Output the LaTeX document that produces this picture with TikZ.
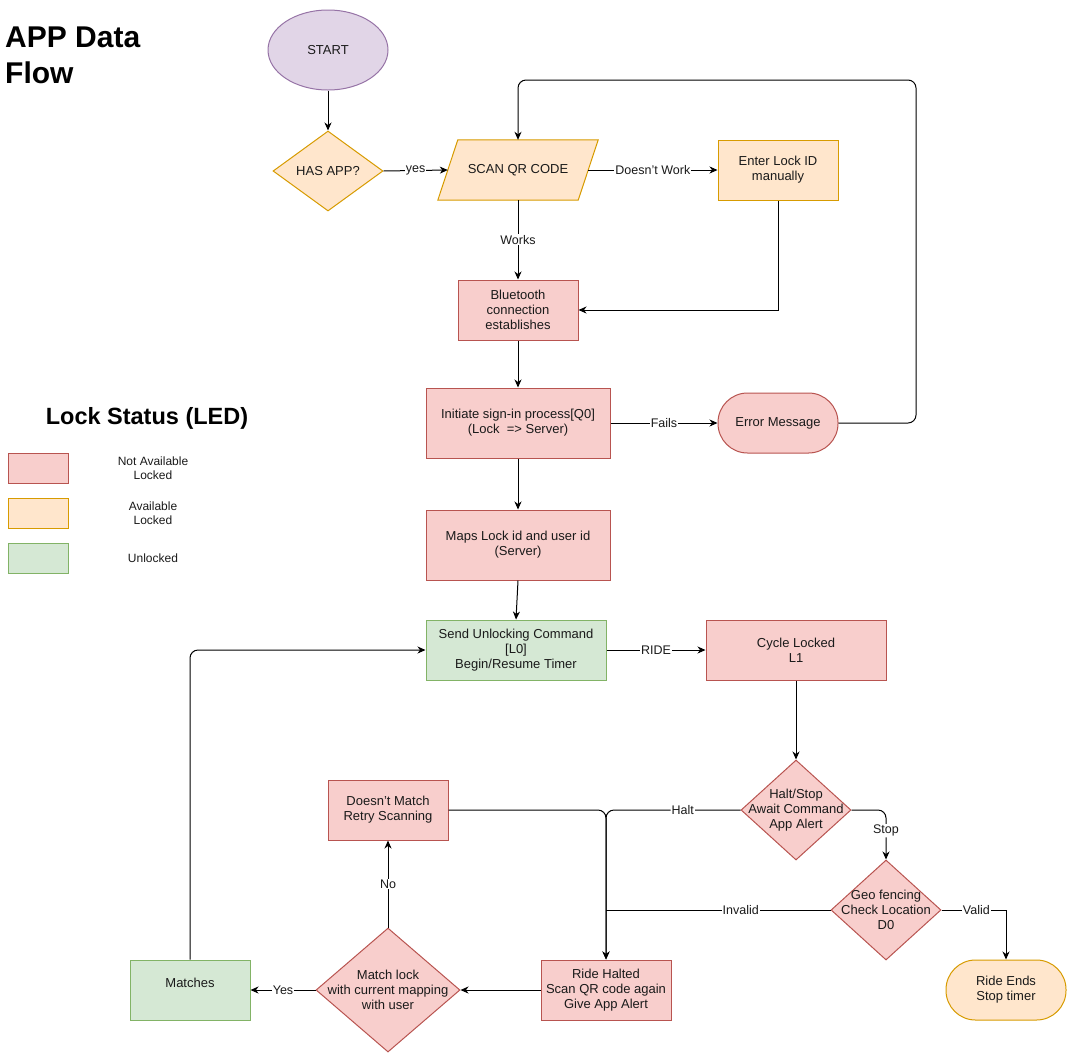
\documentclass[tikz,border=0pt]{standalone}
\usepackage{fontspec}
\setmainfont{Liberation Sans}
\usetikzlibrary{shapes.geometric,arrows.meta,calc}
\definecolor{pfill}{HTML}{E1D5E7}\definecolor{pline}{HTML}{9673A6}
\definecolor{ofill}{HTML}{FFE6CC}\definecolor{oline}{HTML}{D79B00}
\definecolor{rfill}{HTML}{F8CECC}\definecolor{rline}{HTML}{B85450}
\definecolor{gfill}{HTML}{D5E8D4}\definecolor{gline}{HTML}{82B366}
\definecolor{txtc}{HTML}{1A1A1A}
\begin{document}
\begin{tikzpicture}[x=1pt,y=-1pt,
  base/.style={line width=1pt, align=center, text=txtc, font=\fontsize{13}{15}\selectfont, inner sep=2pt},
  redbox/.style={base, draw=rline, fill=rfill, rectangle},
  orbox/.style={base, draw=oline, fill=ofill, rectangle},
  grbox/.style={base, draw=gline, fill=gfill, rectangle},
  reddia/.style={base, draw=rline, fill=rfill, diamond, inner sep=0pt},
  ordia/.style={base, draw=oline, fill=ofill, diamond, inner sep=0pt},
  txt/.style={align=center, text=txtc, font=\fontsize{13}{15}\selectfont, inner sep=0pt},
  arr/.style={line width=1pt, draw=black, -{Stealth[length=8pt,width=7pt,inset=2.5pt]}},
  ln/.style={line width=1pt, draw=black},
  lbl/.style={fill=white, text=txtc, font=\fontsize{12.5}{14}\selectfont, inner sep=1pt},
  legtxt/.style={align=center, text=txtc, font=\fontsize{12}{14}\selectfont, inner sep=0pt}
]
\useasboundingbox (0,0) rectangle (1067,1053);

% titles
\node[anchor=north west, align=left, inner sep=0pt, font=\bfseries\fontsize{30}{36}\selectfont] (title) at (5,27) {APP Data\\Flow};
\node[font=\bfseries\fontsize{23.5}{28}\selectfont, inner sep=0pt] (legtitle) at (147,418) {Lock Status (LED)};

% legend
\node[redbox, minimum width=60pt, minimum height=30pt] (leg1) at (38,468) {};
\node[orbox, minimum width=60pt, minimum height=30pt] (leg2) at (38,513) {};
\node[grbox, minimum width=60pt, minimum height=30pt] (leg3) at (38,558) {};
\node[legtxt] (leg1t) at (153,468) {Not Available\\Locked};
\node[legtxt] (leg2t) at (153,513) {Available\\Locked};
\node[legtxt] (leg3t) at (153,558) {Unlocked};

% nodes
\node[base, ellipse, draw=pline, fill=pfill, minimum width=120pt, minimum height=80pt] (start) at (328,50) {START};
\node[ordia, minimum width=110pt, minimum height=80pt, label={[txt]center:HAS APP?}] (hasapp) at (328,171) {};
\node[minimum width=160pt, minimum height=60pt, inner sep=0pt] (scan) at (518,170) {};
\fill[ofill] ($(scan.north west)+(20,0)$) -- (scan.north east) -- ($(scan.south east)+(-20,0)$) -- (scan.south west) -- cycle;
\draw[line width=1pt, draw=oline] ($(scan.north west)+(20,0)$) -- (scan.north east) -- ($(scan.south east)+(-20,0)$) -- (scan.south west) -- cycle;
\node[txt] (scantxt) at (scan.center) {SCAN QR CODE};
\coordinate (scanE) at ($(scan.east)+(-10,0)$);
\coordinate (scanW) at ($(scan.west)+(10,0)$);
\node[orbox, minimum width=120pt, minimum height=60pt] (enter) at (778,170) {Enter Lock ID\\manually};
\node[redbox, minimum width=120pt, minimum height=60pt] (bt) at (518,310) {Bluetooth\\connection\\establishes};
\node[redbox, minimum width=184pt, minimum height=70pt] (init) at (518,423) {Initiate sign-in process[Q0]\\(Lock\ \ => Server)};
\node[redbox, minimum width=120pt, minimum height=60pt, rounded corners=29.5pt] (err) at (778,423) {Error Message};
\node[redbox, minimum width=184pt, minimum height=70pt] (maps) at (518,545) {Maps Lock id and user id\\(Server)};
\node[grbox, minimum width=180pt, minimum height=60pt] (send) at (516,650) {Send Unlocking Command\\{[}L0{]}\\Begin/Resume Timer};
\node[redbox, minimum width=180pt, minimum height=60pt] (cycle) at (796,650) {Cycle Locked\\L1};
\node[reddia, minimum width=110pt, minimum height=100pt, label={[txt]center:Halt/Stop\\Await Command\\App Alert}] (halt) at (796,810) {};
\node[reddia, minimum width=110pt, minimum height=100pt, label={[txt]center:Geo fencing\\Check Location\\D0}] (geo) at (886,910) {};
\node[orbox, minimum width=120pt, minimum height=60pt, rounded corners=29.5pt] (rideends) at (1006,990) {Ride Ends\\Stop timer};
\node[redbox, minimum width=130pt, minimum height=60pt] (rh) at (606,990) {Ride Halted\\Scan QR code again\\Give App Alert};
\node[reddia, minimum width=144pt, minimum height=124pt, label={[txt]center:Match lock\\with current mapping\\with user}] (match) at (388,990) {};
\node[redbox, minimum width=120pt, minimum height=60pt] (dm) at (388,810) {Doesn't Match\\Retry Scanning};
\node[grbox, minimum width=120pt, minimum height=60pt, label={[txt,yshift=7pt]center:Matches}] (matches) at (190,990) {};

% helper coordinates
\coordinate (loopTR) at (916,80);
\coordinate (invJ) at (606,910);

% connectors
\draw[arr] (start.south) -- (hasapp.north);
\draw[arr] (hasapp.east) -- node[lbl]{yes} (scanW);
\draw[arr] (scanE) -- node[lbl]{Doesn't Work} (enter.west);
\draw[arr] (scan.south) -- node[lbl]{Works} (bt.north);
\draw[arr] (enter.south) |- (bt.east);
\draw[arr] (bt.south) -- (init.north);
\draw[arr] (init.east) -- node[lbl]{Fails} (err.west);
\draw[arr, rounded corners=8pt] (err.east) -| (loopTR) -| (scan.north);
\draw[arr] (init.south) -- (maps.north);
\draw[arr] (maps.south) -- (send.north);
\draw[arr] (send.east) -- node[lbl]{RIDE} (cycle.west);
\draw[arr] (cycle.south) -- (halt.north);
\draw[arr, rounded corners=8pt] (halt.west) -| node[lbl, pos=0.215]{Halt} (rh.north);
\draw[arr, rounded corners=8pt] (dm.east) -| (rh.north);
\draw[arr, rounded corners=8pt] (halt.east) -| node[lbl, pos=0.71]{Stop} (geo.north);
\draw[ln] (geo.west) -- node[lbl, pos=0.4]{Invalid} (invJ);
\draw[arr] (geo.east) -| node[lbl, pos=0.27]{Valid} (rideends.north);
\draw[arr] (rh.west) -- (match.east);
\draw[arr] (match.west) -- node[lbl]{Yes} (matches.east);
\draw[arr] (match.north) -- node[lbl]{No} (dm.south);
\draw[arr, rounded corners=8pt] (matches.north) |- (send.west);
\end{tikzpicture}
\end{document}
